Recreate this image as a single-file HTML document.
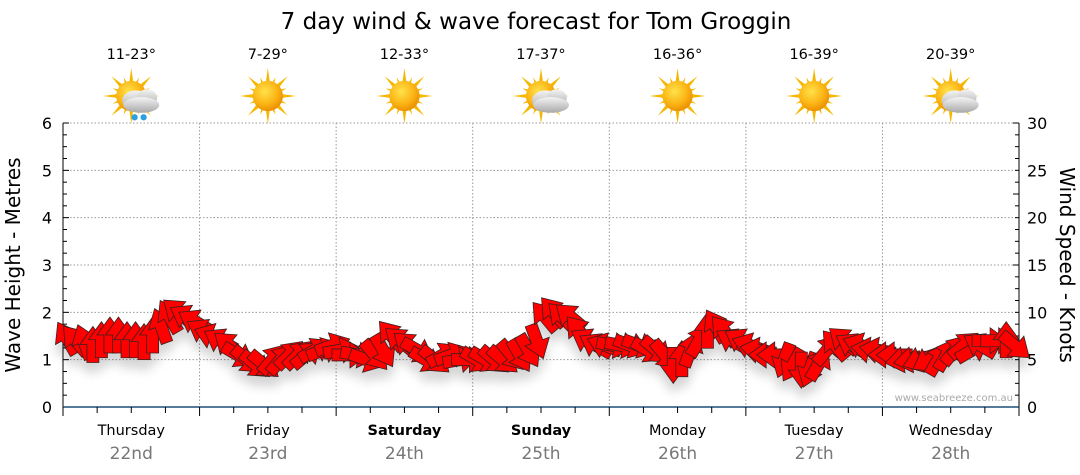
<!DOCTYPE html>
<html><head><meta charset="utf-8">
<style>
html,body{margin:0;padding:0;background:#fff;}
svg{display:block;font-family:"DejaVu Sans","Liberation Sans",sans-serif;}
</style></head>
<body>
<svg id="chart" width="1080" height="475" viewBox="0 0 1080 475" xmlns="http://www.w3.org/2000/svg">
<defs>
<radialGradient id="sunG" cx="0.4" cy="0.35" r="0.7"><stop offset="0" stop-color="#ffe24a"/><stop offset="0.6" stop-color="#fbb414"/><stop offset="1" stop-color="#e88a00"/></radialGradient>
<linearGradient id="cloudG" x1="0" y1="0" x2="0" y2="1"><stop offset="0" stop-color="#f4f4f4"/><stop offset="1" stop-color="#a9a9a9"/></linearGradient>
<filter id="shadow" x="-20%" y="-20%" width="140%" height="180%"><feDropShadow dx="0" dy="10" stdDeviation="5" flood-color="#000" flood-opacity="0.16"/></filter>
</defs>
<text x="536" y="29" font-size="23" text-anchor="middle" fill="#000">7 day wind &amp; wave forecast for Tom Groggin</text>
<g id="grid"></g>
<g id="axes"></g>
<g id="icons"></g>
<g id="arrows" filter="url(#shadow)"></g>
<text x="1013" y="401" font-size="10" text-anchor="end" fill="#aaa">www.seabreeze.com.au</text>
<text transform="translate(20,265) rotate(-90)" font-size="20" text-anchor="middle">Wave Height - Metres</text>
<text transform="translate(1060,265) rotate(90)" font-size="20" text-anchor="middle">Wind Speed - Knots</text>
</svg>
<script>
const days = ["Thursday","Friday","Saturday","Sunday","Monday","Tuesday","Wednesday"];
const dates = ["22nd","23rd","24th","25th","26th","27th","28th"];
const temps = ["11-23°","7-29°","12-33°","17-37°","16-36°","16-39°","20-39°"];
const iconTypes = ["rain","sun","sun","cloud","sun","sun","cloud"];
const boldDays = [false,false,true,true,false,false,false];
const waveTicks = [0,1,2,3,4,5,6];
const windTicks = [0,5,10,15,20,25,30];
const speeds = [
7.2,7,6.8,6.5,7,7.5,7.5,7,7,6.8,7.5,8.5,9.5,10,9.5,9,
8,7.5,7,6.5,5.5,5,4.5,4.5,5,5,5.5,5.5,5.5,6,6,6.5,
6,5.5,5.5,5,5.5,6,7.5,7,6.5,6,5,5,5.5,5.5,5,5,
5,5,5,5,5.5,5.5,6,7,9.5,10,9.5,9.5,8,7,6.5,6.5,
6.5,6.5,6.5,6.5,6,6,5.5,4.5,5,6,7,8,8.5,8,7,7,
6.5,6,5.5,5.5,5,4.5,4,4,4.5,6,6.5,7,6.5,6.5,6,6,
5.5,5.5,5,5,5,5,5,5.5,6,6.5,6,6.5,7,7,7,6.5];
const angles = [
-30,-40,-20,0,0,0,0,0,0,0,0,-20,-30,-50,-60,-60,
-60,-70,-60,-50,120,130,130,130,40,40,45,45,50,60,70,70,
80,90,100,110,140,150,-40,-50,-50,120,120,130,60,70,80,90,
120,120,130,130,140,150,150,160,-40,-40,-45,-50,-40,-60,-60,-70,
100,100,110,110,120,130,140,180,0,20,30,0,-30,-40,-60,-60,
-70,-80,-90,-90,200,210,180,200,30,40,-40,-50,-60,-70,-80,-80,
-90,-90,-100,-100,-110,-120,30,30,40,50,60,-60,90,90,0,130];

const NS="http://www.w3.org/2000/svg";
const X0=63,X1=1019,Y0=407,Y1=123,DW=(X1-X0)/7;
const yWave=v=>Y0-(v/6)*(Y0-Y1);
const yWind=v=>Y0-(v/30)*(Y0-Y1);
const xIdx=i=>X0+(i+0.5)*DW/16;
function mk(tag,attrs,parent,txt){const e=document.createElementNS(NS,tag);for(const k in attrs)e.setAttribute(k,attrs[k]);if(txt!==undefined)e.textContent=txt;parent.appendChild(e);return e;}
const grid=document.getElementById('grid'),axes=document.getElementById('axes'),icons=document.getElementById('icons'),arrows=document.getElementById('arrows');

waveTicks.forEach(v=>{
  if(v>0){const l=mk('line',{x1:X0,x2:X1,y1:yWave(v),y2:yWave(v),stroke:'#999','stroke-dasharray':'1.5,2'},grid);
  }
  const t=mk('text',{x:52,y:yWave(v)+6,'font-size':16,'text-anchor':'end'},axes,String(v));
  
});
windTicks.forEach(v=>{
  const t=mk('text',{x:1027,y:yWind(v)+6,'font-size':16},axes,String(v));
  
});
for(let k=0;k<=24;k++){const y=Y0-k*(Y0-Y1)/24;
  mk('line',{x1:X0,x2:X0+(k%4==0?6:4),y1:y,y2:y,stroke:'#000'},axes);
  mk('line',{x1:X1,x2:X1-(k%6==0?6:4),y1:y,y2:y,stroke:'#000'},axes);}
mk('line',{x1:X0,x2:X0,y1:Y1,y2:Y0,stroke:'#000'},axes);
mk('line',{x1:X1,x2:X1,y1:Y1,y2:Y0,stroke:'#000'},axes);
mk('line',{x1:X0,x2:X1,y1:Y0,y2:Y0,stroke:'#1f4e79','stroke-width':1.5},axes);
for(let k=0;k<=28;k++){const x=X0+k*DW/4;mk('line',{x1:x,x2:x,y1:Y0,y2:Y0+(k%4==0?9:6),stroke:'#000'},axes);}

days.forEach((d,i)=>{
  const cx=X0+(i+0.5)*DW;
  if(i>0){const l=mk('line',{x1:X0+i*DW,x2:X0+i*DW,y1:Y1,y2:Y0,stroke:'#999','stroke-dasharray':'1.5,2'},grid);
    }
  const t=mk('text',{x:cx,y:435,'font-size':14.5,'text-anchor':'middle','font-weight':boldDays[i]?'bold':'normal'},axes,d);
  
  const t2=mk('text',{x:cx,y:459,'font-size':17,'text-anchor':'middle',fill:'#777'},axes,dates[i]);
  
  const t3=mk('text',{x:cx,y:59,'font-size':14.5,'text-anchor':'middle'},icons,temps[i]);
  
  const g=mk('g',{transform:`translate(${cx},96) scale(1.12)`},icons);
  
  for(let r=0;r<16;r++){const a=r*Math.PI/8,len=r%2?18:25,w=3.5;
    const tx=Math.sin(a)*len,ty=-Math.cos(a)*len,px=Math.cos(a)*w,py=Math.sin(a)*w;
    mk('polygon',{points:`${tx},${ty} ${px},${py} ${-px},${-py}`,fill:'#f5b800'},g);}
  mk('circle',{r:13.5,fill:'url(#sunG)'},g);
  if(iconTypes[i]!=='sun'){
    const c=mk('g',{transform:'translate(8,4)'},g);
    mk('ellipse',{cx:-4,cy:0,rx:12,ry:9,fill:'url(#cloudG)'},c);
    mk('ellipse',{cx:6,cy:-2,rx:9,ry:8,fill:'url(#cloudG)'},c);
    mk('ellipse',{cx:1,cy:4,rx:16,ry:7,fill:'url(#cloudG)'},c);
    if(iconTypes[i]==='rain'){mk('circle',{cx:-5,cy:15,r:2.8,fill:'#2aa0e0'},c);mk('circle',{cx:3,cy:15,r:2.8,fill:'#2aa0e0'},c);}
  }
});

speeds.forEach((s,i)=>{
  const p=mk('polygon',{points:'0,-19 -13,-1 -6,-1 -6,17 6,17 6,-1 13,-1',fill:'#ff0000',stroke:'#3a2020','stroke-width':0.8,
    transform:`translate(${xIdx(i)},${yWind(s)}) rotate(${angles[i]})`},arrows);
  
  
});
</script>
</body></html>
